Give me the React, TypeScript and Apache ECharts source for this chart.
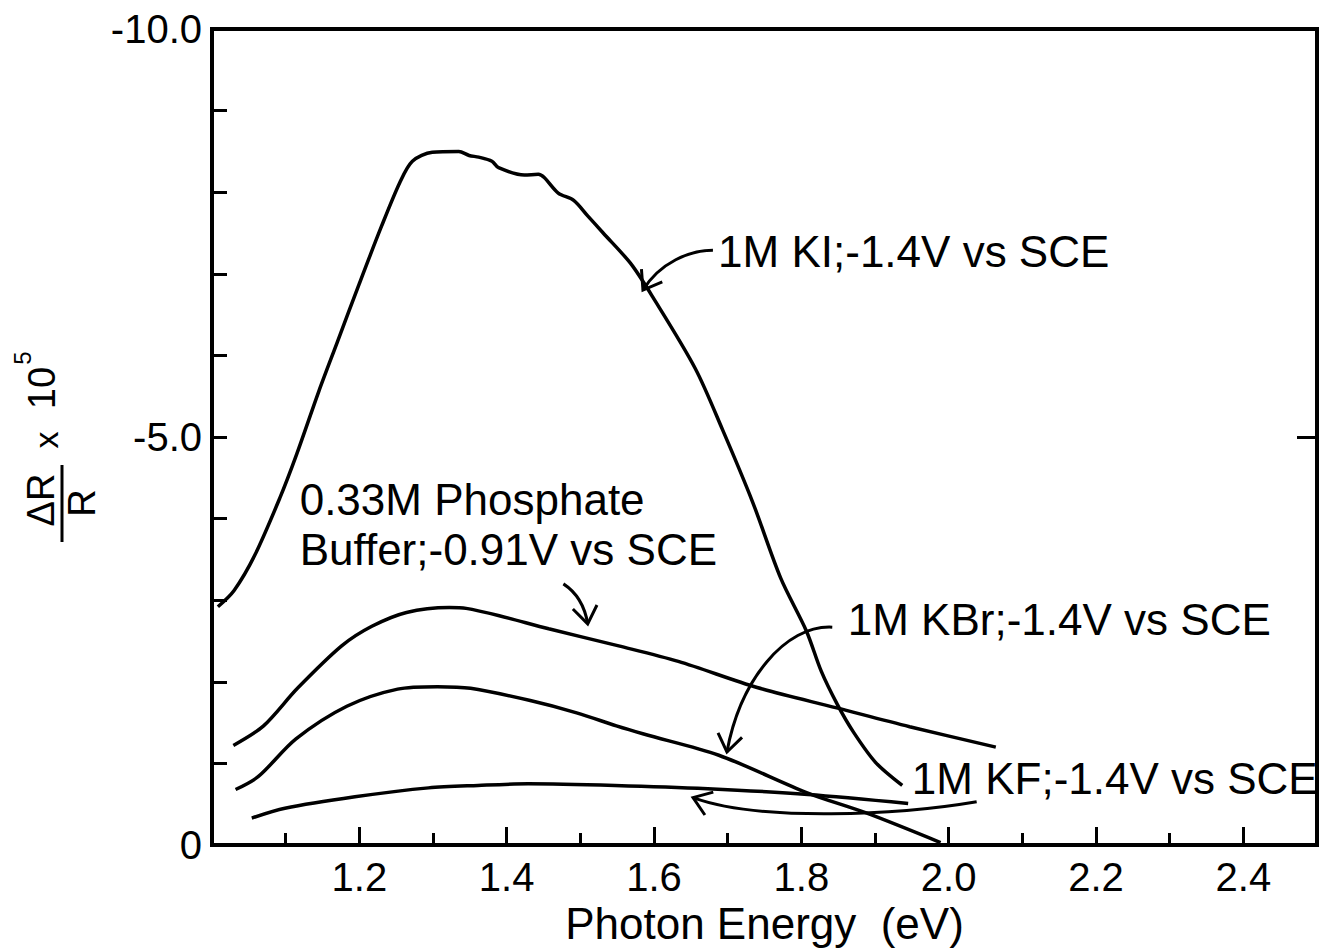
import React, { useEffect, useRef } from "react";
import * as echarts from "echarts";

const FONT = '"Liberation Sans", Arial, Helvetica, sans-serif';

// ---- data (photon energy in eV, ΔR/R × 10^5) ----
const kiEnergy = [1.008, 1.030, 1.058, 1.092, 1.115, 1.145, 1.170, 1.200, 1.230, 1.255, 1.272, 1.299, 1.335, 1.349, 1.362, 1.380, 1.389, 1.424, 1.443, 1.451, 1.470, 1.491, 1.510, 1.531, 1.568, 1.598, 1.656, 1.693, 1.734, 1.772, 1.807, 1.827, 1.849, 1.871, 1.901, 1.937];
const kiSignal = [-2.92, -3.12, -3.55, -4.25, -4.79, -5.56, -6.16, -6.88, -7.58, -8.12, -8.38, -8.49, -8.50, -8.45, -8.43, -8.38, -8.30, -8.21, -8.22, -8.18, -7.99, -7.90, -7.71, -7.50, -7.13, -6.72, -5.84, -5.09, -4.20, -3.27, -2.62, -2.13, -1.72, -1.38, -1.01, -0.73];

const phosEnergy = [1.029, 1.070, 1.116, 1.176, 1.217, 1.264, 1.322, 1.345, 1.390, 1.457, 1.552, 1.633, 1.740, 1.848, 1.947, 2.064];
const phosSignal = [-1.22, -1.46, -1.92, -2.44, -2.68, -2.85, -2.91, -2.90, -2.81, -2.65, -2.44, -2.25, -1.93, -1.68, -1.45, -1.20];

const kbrEnergy = [1.032, 1.063, 1.114, 1.183, 1.252, 1.306, 1.351, 1.432, 1.495, 1.549, 1.586, 1.688, 1.808, 1.889, 1.989];
const kbrSignal = [-0.68, -0.84, -1.30, -1.70, -1.91, -1.94, -1.92, -1.77, -1.62, -1.46, -1.36, -1.10, -0.64, -0.39, -0.03];

const kfEnergy = [1.054, 1.099, 1.194, 1.294, 1.361, 1.429, 1.547, 1.673, 1.809, 1.945];
const kfSignal = [-0.33, -0.45, -0.59, -0.70, -0.73, -0.75, -0.73, -0.69, -0.62, -0.51];

// ---- annotations (anchored in data coordinates) ----
const noteTexts = ["1M KI;-1.4V vs SCE", "0.33M Phosphate", "Buffer;-0.91V vs SCE", "1M KBr;-1.4V vs SCE", "1M KF;-1.4V vs SCE"];
const noteEnergy = [1.687, 1.119, 1.119, 1.863, 1.950];
const noteSignal = [-7.27, -4.23, -3.62, -2.76, -0.82];

// arrows: start, control 1, control 2, tip
const arrowKiE = [1.680, 1.649, 1.608, 1.585];
const arrowKiS = [-7.29, -7.29, -7.14, -6.80];
const arrowPhosE = [1.477, 1.494, 1.506, 1.510];
const arrowPhosS = [-3.20, -3.10, -2.93, -2.71];
const arrowKbrE = [1.842, 1.778, 1.717, 1.699];
const arrowKbrS = [-2.67, -2.70, -2.02, -1.14];
const arrowKfE = [2.038, 1.934, 1.744, 1.653];
const arrowKfS = [-0.53, -0.37, -0.28, -0.58];

const zip = (a: number[], b: number[]) => a.map((v, i) => [v, b[i]]);

export default function App() {
  const ref = useRef<HTMLDivElement>(null);

  useEffect(() => {
    if (!ref.current) return;
    const chart = echarts.init(ref.current, null, { renderer: "svg" });

    const lineSeries = (name: string, e: number[], s: number[]) => ({
      name,
      type: "line",
      data: zip(e, s),
      showSymbol: false,
      symbol: "none",
      smooth: 0.3,
      silent: true,
      xAxisIndex: 0,
      yAxisIndex: 0,
      lineStyle: { color: "#000", width: 3.5 },
    });

    const option: any = {
      animation: false,
      backgroundColor: "#fff",
      grid: {
        left: 212,
        right: 3,
        top: 29,
        bottom: 107,
        show: true,
        borderColor: "#000",
        borderWidth: 4,
        backgroundColor: "transparent",
      },
      xAxis: [
        {
          type: "value",
          min: 1.0,
          max: 2.5,
          interval: 0.2,
          position: "bottom",
          axisLine: { show: false, onZero: false },
          axisTick: { show: true, inside: true, length: 18, lineStyle: { color: "#000", width: 3 } },
          axisLabel: {
            show: true,
            fontSize: 40,
            fontFamily: FONT,
            color: "#000",
            margin: 12,
            showMinLabel: false,
            showMaxLabel: false,
            formatter: (v: number) => v.toFixed(1),
          },
          splitLine: { show: false },
          name: "Photon Energy  (eV)",
          nameLocation: "middle",
          nameGap: 54,
          nameTextStyle: { fontSize: 44, fontFamily: FONT, color: "#000" },
        },
        {
          type: "value",
          min: 1.0,
          max: 2.5,
          interval: 0.1,
          position: "bottom",
          axisLine: { show: false, onZero: false },
          axisTick: { show: true, inside: true, length: 12, lineStyle: { color: "#000", width: 3 } },
          axisLabel: { show: false },
          splitLine: { show: false },
        },
      ],
      yAxis: [
        {
          type: "value",
          min: -10,
          max: 0,
          interval: 1,
          inverse: true,
          position: "left",
          axisLine: { show: false, onZero: false },
          axisTick: { show: true, inside: true, length: 15, lineStyle: { color: "#000", width: 3 } },
          axisLabel: {
            show: true,
            fontSize: 40,
            fontFamily: FONT,
            color: "#000",
            margin: 10,
            formatter: (v: number) => (v === 0 ? "0" : Math.abs(v % 5) < 1e-9 ? v.toFixed(1) : ""),
          },
          splitLine: { show: false },
        },
        {
          type: "value",
          min: -10,
          max: 0,
          interval: 5,
          inverse: true,
          position: "right",
          axisLine: { show: false, onZero: false },
          axisTick: { show: true, inside: true, length: 20, lineStyle: { color: "#000", width: 3 } },
          axisLabel: { show: false },
          splitLine: { show: false },
        },
      ],
      series: [
        lineSeries("1M KI", kiEnergy, kiSignal),
        lineSeries("0.33M Phosphate Buffer", phosEnergy, phosSignal),
        lineSeries("1M KBr", kbrEnergy, kbrSignal),
        lineSeries("1M KF", kfEnergy, kfSignal),
      ],
    };

    chart.setOption(option);

    const toPx = (x: number, y: number): number[] =>
      chart.convertToPixel({ xAxisIndex: 0, yAxisIndex: 0 }, [x, y]) as number[];

    const graphics: any[] = [];

    noteTexts.forEach((t, i) => {
      const p = toPx(noteEnergy[i], noteSignal[i]);
      graphics.push({
        type: "text",
        x: p[0],
        y: p[1],
        silent: true,
        style: {
          text: t,
          fontSize: 44,
          fontFamily: FONT,
          fill: "#000",
          align: "left",
          verticalAlign: "middle",
        },
      });
    });

    const arrows = [
      [arrowKiE, arrowKiS],
      [arrowPhosE, arrowPhosS],
      [arrowKbrE, arrowKbrS],
      [arrowKfE, arrowKfS],
    ];
    arrows.forEach(([e, s]) => {
      const p = e.map((x, i) => toPx(x, s[i]));
      graphics.push({
        type: "bezierCurve",
        silent: true,
        shape: {
          x1: p[0][0], y1: p[0][1],
          cpx1: p[1][0], cpy1: p[1][1],
          cpx2: p[2][0], cpy2: p[2][1],
          x2: p[3][0], y2: p[3][1],
        },
        style: { stroke: "#000", lineWidth: 3, fill: "none" },
      });
      const dx = p[3][0] - p[2][0];
      const dy = p[3][1] - p[2][1];
      const len = Math.hypot(dx, dy) || 1;
      const ux = -dx / len;
      const uy = -dy / len;
      const rot = (a: number) => [ux * Math.cos(a) - uy * Math.sin(a), ux * Math.sin(a) + uy * Math.cos(a)];
      const r1 = rot(0.62);
      const r2 = rot(-0.62);
      const L = 21;
      graphics.push({
        type: "polyline",
        silent: true,
        shape: {
          points: [
            [p[3][0] + r1[0] * L, p[3][1] + r1[1] * L],
            [p[3][0], p[3][1]],
            [p[3][0] + r2[0] * L, p[3][1] + r2[1] * L],
          ],
        },
        style: { stroke: "#000", lineWidth: 3, fill: "none" },
      });
    });

    // rotated y-axis title: ΔR / R × 10^5
    graphics.push({
      type: "group",
      x: 60,
      y: 540,
      rotation: Math.PI / 2,
      silent: true,
      children: [
        { type: "text", x: 40, y: -19, style: { text: "ΔR", fontSize: 38, fontFamily: FONT, fill: "#000", align: "center", verticalAlign: "middle" } },
        { type: "line", shape: { x1: -2, y1: 2, x2: 75, y2: 2 }, style: { stroke: "#000", lineWidth: 3 } },
        { type: "text", x: 37, y: 22, style: { text: "R", fontSize: 38, fontFamily: FONT, fill: "#000", align: "center", verticalAlign: "middle" } },
        { type: "text", x: 100, y: -14, style: { text: "x", fontSize: 34, fontFamily: FONT, fill: "#000", align: "center", verticalAlign: "middle" } },
        { type: "text", x: 152, y: -18, style: { text: "10", fontSize: 38, fontFamily: FONT, fill: "#000", align: "center", verticalAlign: "middle" } },
        { type: "text", x: 182, y: -38, style: { text: "5", fontSize: 24, fontFamily: FONT, fill: "#000", align: "center", verticalAlign: "middle" } },
      ],
    });

    chart.setOption({ graphic: graphics });

    return () => {
      chart.dispose();
    };
  }, []);

  return (
    <div
      ref={ref}
      style={{ position: "fixed", left: 0, top: 0, width: 1320, height: 952, background: "#fff" }}
    />
  );
}
